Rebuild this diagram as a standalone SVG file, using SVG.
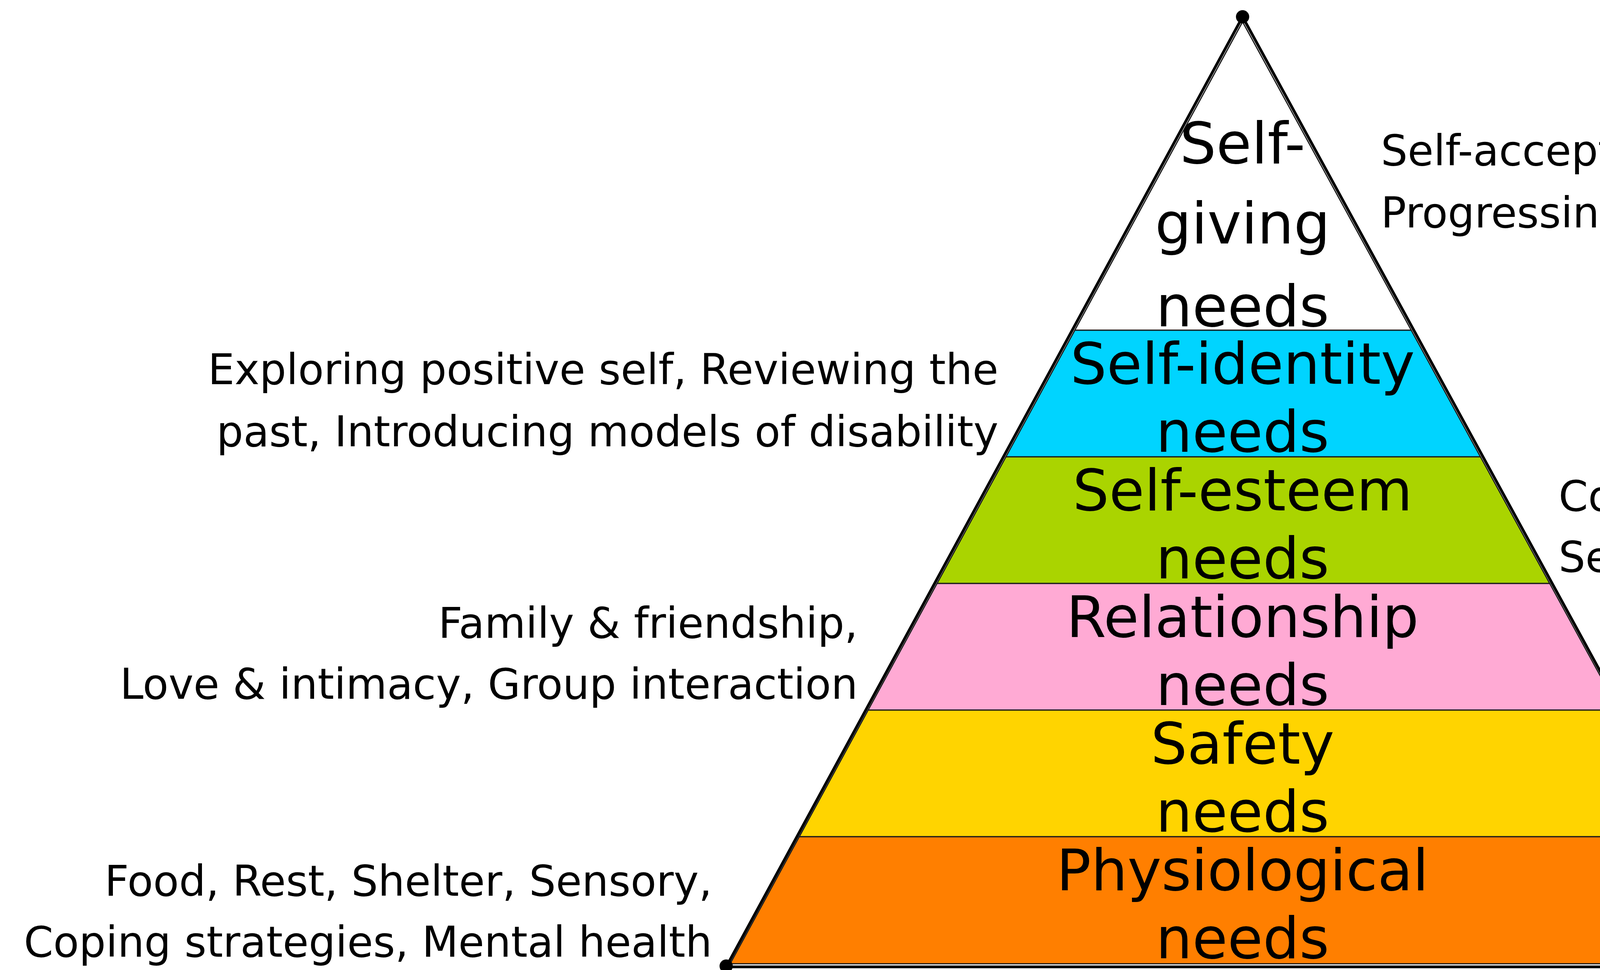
<svg xmlns="http://www.w3.org/2000/svg" width="6078" height="2482" viewBox="0 0 6078 2482">
  <style>
    .band { stroke: #1a1a1a; stroke-width: 3; stroke-linejoin: miter; }
    .lbl { font-family: "DejaVu Sans", Verdana, sans-serif; font-size: 147px; fill: #000; text-anchor: middle; }
    .side { font-family: "DejaVu Sans", Verdana, sans-serif; font-size: 108px; fill: #000; }
    .left { text-anchor: end; }
    .right { text-anchor: start; }
    .outline { fill: none; stroke: #000; stroke-width: 7; stroke-linejoin: round; }
    .dot { fill: #000; }
    .contact { font-family: "DejaVu Sans", Verdana, sans-serif; font-size: 99px; fill: #000; }
  </style>
  <rect x="0" y="0" width="6078" height="2482" fill="#ffffff"/>

  <g id="self-giving">
    <polygon class="band" fill="#ffffff" points="3181,56 3612.8,845 2751.5,845"/>
    <text class="lbl" x="3181" y="418">Self-</text>
    <text class="lbl" x="3181" y="623">giving</text>
    <text class="lbl" x="3181" y="835">needs</text>
  </g>
  <g id="self-identity">
    <polygon class="band" fill="#00d4ff" points="2751.5,845 3612.8,845 3790,1169 2575.1,1169"/>
    <text class="lbl" x="3181" y="982">Self-identity</text>
    <text class="lbl" x="3181" y="1156">needs</text>
  </g>
  <g id="self-esteem">
    <polygon class="band" fill="#aad400" points="2575.1,1169 3790,1169 3967.3,1493 2398.8,1493"/>
    <text class="lbl" x="3181" y="1306">Self-esteem</text>
    <text class="lbl" x="3181" y="1480">needs</text>
  </g>
  <g id="relationship">
    <polygon class="band" fill="#ffaad4" points="2398.8,1493 3967.3,1493 4144.6,1817 2222.4,1817"/>
    <text class="lbl" x="3181" y="1630">Relationship</text>
    <text class="lbl" x="3181" y="1804">needs</text>
  </g>
  <g id="safety">
    <polygon class="band" fill="#ffd400" points="2222.4,1817 4144.6,1817 4321.8,2141 2046.1,2141"/>
    <text class="lbl" x="3181" y="1954">Safety</text>
    <text class="lbl" x="3181" y="2128">needs</text>
  </g>
  <g id="physiological">
    <polygon class="band" fill="#ff7f00" points="2046.1,2141 4321.8,2141 4499.6,2466 1869.2,2466"/>
    <text class="lbl" x="3181" y="2278">Physiological</text>
    <text class="lbl" x="3181" y="2452">needs</text>
  </g>

  <g id="pyramid-outline">
    <polygon class="outline" points="3181,43 4510,2474 1859,2474"/>
    <circle class="dot" cx="3181" cy="43" r="17"/>
    <circle class="dot" cx="1859" cy="2472" r="17"/>
    <circle class="dot" cx="4510" cy="2472" r="17"/>
  </g>

  <g id="note-self-giving">
    <text class="side right" x="3535" y="423">Self-acceptance,</text>
    <text class="side right" x="3535" y="582">Progressing resilience, Sharing with others</text>
  </g>
  <g id="note-self-identity">
    <text class="side left" x="2556" y="983">Exploring positive self, Reviewing the</text>
    <text class="side left" x="2556" y="1142">past, Introducing models of disability</text>
  </g>
  <g id="note-self-esteem">
    <text class="side right" x="3990" y="1307">Confidence building,</text>
    <text class="side right" x="3990" y="1463">Self-efficacy, Sense of self via others</text>
  </g>
  <g id="note-relationship">
    <text class="side left" x="2196" y="1632">Family &amp; friendship,</text>
    <text class="side left" x="2196" y="1788">Love &amp; intimacy, Group interaction</text>
  </g>
  <g id="note-safety">
    <text class="side right" x="4340" y="1957">Violence, Economical,</text>
    <text class="side right" x="4340" y="2115">Employment</text>
  </g>
  <g id="note-physiological">
    <text class="side left" x="1823" y="2292">Food, Rest, Shelter, Sensory,</text>
    <text class="side left" x="1823" y="2448">Coping strategies, Mental health</text>
  </g>

  <g id="contact">
    <text class="contact" x="4990" y="2377">For further details con</text>
    <text class="contact" x="5108" y="2495" font-weight="bold">claire@autismac.c</text>
  </g>
</svg>
